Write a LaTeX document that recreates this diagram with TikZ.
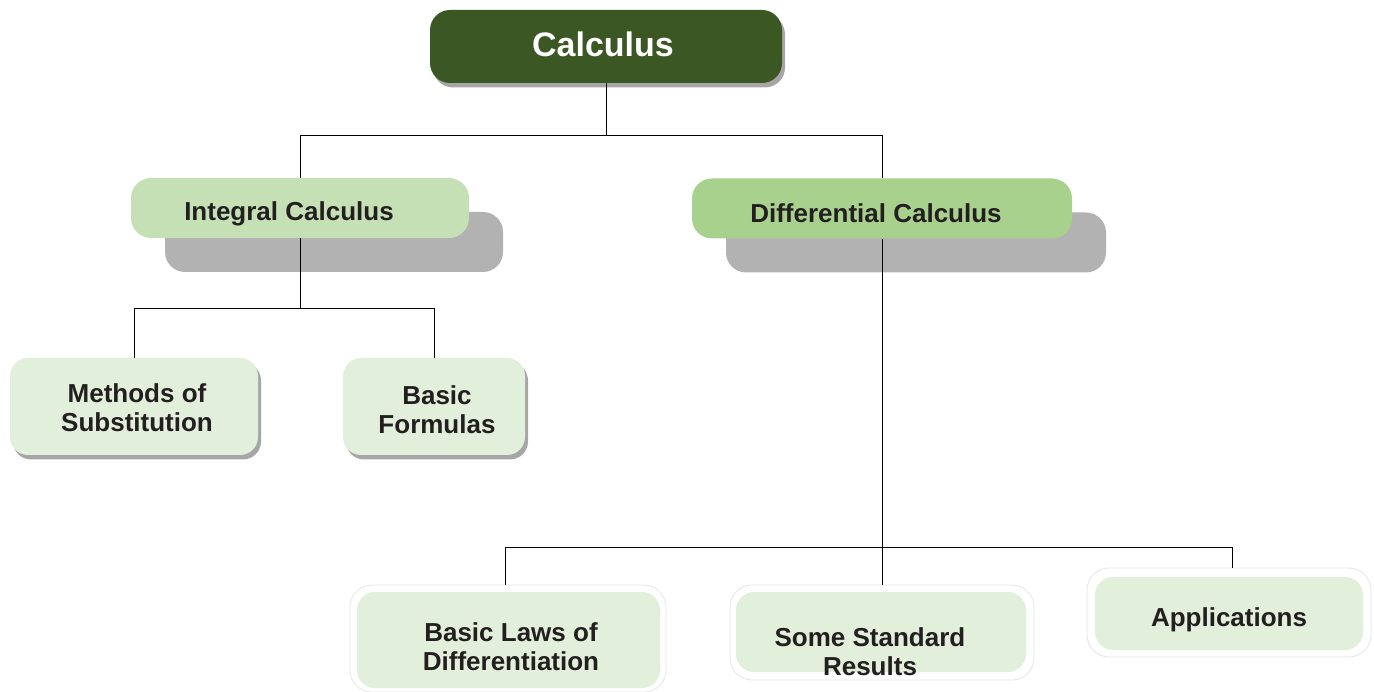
\documentclass[tikz,border=0pt]{standalone}
\usepackage{fontspec}
\setmainfont{Liberation Sans}
\definecolor{calcgreen}{HTML}{3A5724}
\definecolor{intgreen}{HTML}{C5E0B4}
\definecolor{difgreen}{HTML}{A9D18E}
\definecolor{palegreen}{HTML}{E2EFDA}
\definecolor{shadowgray}{HTML}{B2B2B2}
\definecolor{smallshadow}{HTML}{A6A6A6}
\definecolor{textdark}{HTML}{231F20}
\begin{document}
\begin{tikzpicture}[x=1pt,y=-1pt,
  base/.style={rectangle, inner sep=0pt, draw=none},
  topbox/.style={base, fill=calcgreen, rounded corners=20pt, minimum width=352pt, minimum height=73pt},
  topshadow/.style={base, fill=smallshadow, rounded corners=20pt, minimum width=352pt, minimum height=73pt},
  midbox/.style={base, rounded corners=20pt, minimum height=60pt},
  midshadow/.style={base, fill=shadowgray, rounded corners=20pt, minimum height=60pt},
  leafbox/.style={base, fill=palegreen, rounded corners=18pt, minimum height=97pt},
  leafshadow/.style={base, fill=smallshadow, rounded corners=18pt, minimum height=97pt},
  outerbox/.style={base, fill=white, draw=gray!20, line width=0.8pt, rounded corners=22pt},
  innerbox/.style={base, fill=palegreen, rounded corners=18pt},
  conn/.style={draw=black, line width=0.9pt},
  lbl/.style={font=\bfseries\fontsize{26}{29}\selectfont, text=textdark, align=center, inner sep=0pt},
  toplbl/.style={font=\bfseries\fontsize{34}{40}\selectfont, text=white, inner sep=0pt}]
\useasboundingbox (0,0) rectangle (1374,692);

% shadows
\node[topshadow] (calcS) at (609,51) {};
\node[midshadow, minimum width=338pt] (intS) at (334,242) {};
\node[midshadow, minimum width=380pt] (difS) at (916,242.5) {};
\node[leafshadow, minimum width=248pt] (methS) at (137,411) {};
\node[leafshadow, minimum width=182pt] (basicS) at (437,411) {};

% outer frames of lower leaves
\node[outerbox, minimum width=316pt, minimum height=107pt] (laws) at (508,638.5) {};
\node[outerbox, minimum width=304pt, minimum height=95pt] (some) at (882,632.5) {};
\node[outerbox, minimum width=284pt, minimum height=89pt] (app) at (1229,612.5) {};

% main boxes
\node[topbox] (calc) at (606,46.5) {};
\node[midbox, fill=intgreen, minimum width=338pt] (int) at (300,208) {};
\node[midbox, fill=difgreen, minimum width=380pt] (dif) at (882,208.5) {};
\node[leafbox, minimum width=248pt] (meth) at (134,406.5) {};
\node[leafbox, minimum width=182pt] (basic) at (434,406.5) {};
\node[innerbox, minimum width=303pt, minimum height=96pt] (lawsI) at (508.5,640) {};
\node[innerbox, minimum width=290pt, minimum height=80pt] (someI) at (881,632) {};
\node[innerbox, minimum width=268pt, minimum height=73pt] (appI) at (1229,613.5) {};

% connectors
\coordinate (j1) at (606,135);
\coordinate (j2) at (300,308);
\coordinate (j3) at (882,547);
\draw[conn] (calc.south) -- (j1);
\draw[conn] (int.north) |- (j1);
\draw[conn] (dif.north) |- (j1);
\draw[conn] (int.south) -- (j2);
\draw[conn] (meth.north) |- (j2);
\draw[conn] (basic.north) |- (j2);
\draw[conn] (dif.south) -- (some.north);
\draw[conn] ([xshift=-3pt]laws.north) |- (j3);
\draw[conn] ([xshift=3pt]app.north) |- (j3);

% texts
\node[toplbl] (tCalc) at (603,44) {Calculus};
\node[lbl] (tInt) at (289,214) {Integral Calculus};
\node[lbl] (tDif) at (876,213) {Differential Calculus};
\node[lbl] (tMeth) at (137,408) {Methods of\\Substitution};
\node[lbl] (tBasic) at (437,410) {Basic\\Formulas};
\node[lbl] (tLaws) at (511,647) {Basic Laws of\\Differentiation};
\node[lbl] (tSome) at (870,652) {Some Standard\\Results};
\node[lbl] (tApp) at (1229,620) {Applications};
\end{tikzpicture}
\end{document}
